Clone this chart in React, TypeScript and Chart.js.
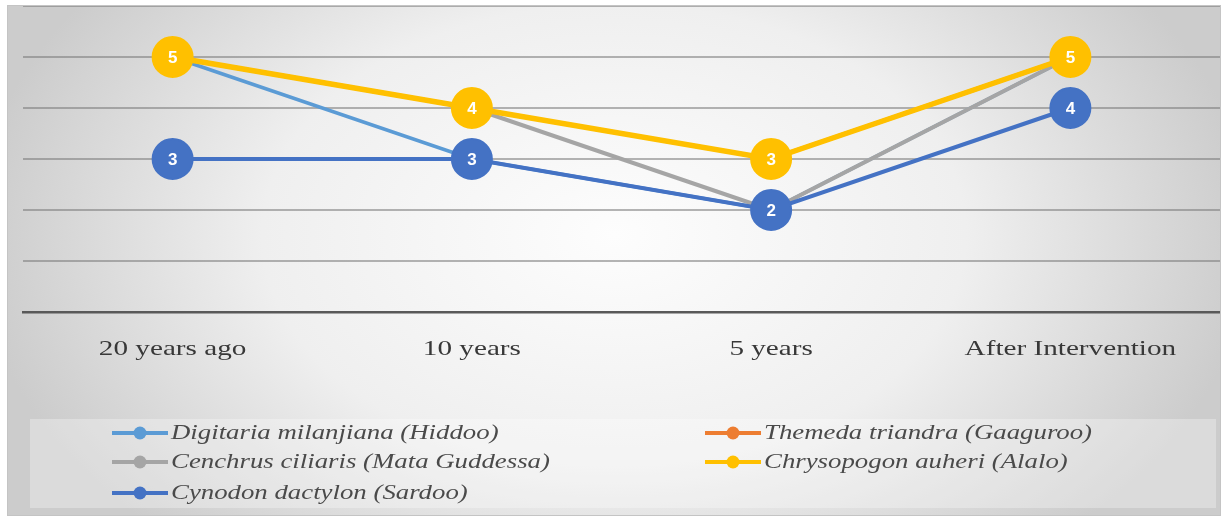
import React, { useEffect, useRef } from "react";
import { Chart, registerables } from "chart.js";

Chart.register(...registerables);

const categories = ["20 years ago", "10 years", "5 years", "After Intervention"];
const seriesNames = [
  "Digitaria milanjiana (Hiddoo)",
  "Themeda triandra (Gaaguroo)",
  "Cenchrus ciliaris (Mata Guddessa)",
  "Chrysopogon auheri (Alalo)",
  "Cynodon dactylon (Sardoo)",
];
const digitaria = [5, 3, 2, 5];
const themeda = [5, 4, 3, 5];
const cenchrus = [5, 4, 2, 5];
const chrysopogon = [5, 4, 3, 5];
const cynodon = [3, 3, 2, 4];
const yMin = 0;
const yMax = 6;

const colors = ["#5B9BD5", "#ED7D31", "#A5A5A5", "#FFC000", "#4472C4"];
const lineWidths = [3.5, 4, 4, 5.5, 4];
const labelled = [false, false, false, true, true];
const drawOrder = [4, 3, 2, 1, 0];
const seriesValues = [digitaria, themeda, cenchrus, chrysopogon, cynodon];

// legend layout: [column, row] for each series
const legendSlots = [
  [0, 0],
  [1, 0],
  [0, 1],
  [1, 1],
  [0, 2],
];

const customPlugin = {
  id: "custom",
  afterDatasetsDraw(chart: any) {
    const ctx = chart.ctx;
    ctx.save();
    chart.data.datasets.forEach((ds: any, i: number) => {
      if (!ds.showLabels) return;
      const meta = chart.getDatasetMeta(i);
      meta.data.forEach((pt: any, j: number) => {
        ctx.font = "bold 17px 'Liberation Sans', Arial, sans-serif";
        ctx.fillStyle = "#ffffff";
        ctx.textAlign = "center";
        ctx.textBaseline = "middle";
        ctx.fillText(String(ds.data[j]), pt.x, pt.y + 1);
      });
    });
    ctx.restore();
  },
  afterDraw(chart: any) {
    const ctx = chart.ctx;
    const xs = chart.scales.x;
    const axisY = chart.chartArea.bottom;
    ctx.save();
    // category labels
    ctx.fillStyle = "#383838";
    ctx.font = "21px 'Liberation Serif', 'Times New Roman', serif";
    ctx.textAlign = "center";
    ctx.textBaseline = "middle";
    categories.forEach((c, i) => {
      const x = xs.getPixelForValue(i);
      ctx.save();
      ctx.translate(x, axisY + 37);
      ctx.scale(1.39, 1);
      ctx.fillText(c, 0, 0);
      ctx.restore();
    });
    // legend box
    const boxTop = axisY + 107;
    ctx.fillStyle = "rgba(255,255,255,0.3)";
    ctx.fillRect(22, boxTop, 1186, 89);
    const colLine = [104, 697];
    const rowY = [boxTop + 14, boxTop + 43, boxTop + 74];
    seriesNames.forEach((name, i) => {
      const [c, r] = legendSlots[i];
      const x0 = colLine[c];
      const y = rowY[r];
      ctx.strokeStyle = colors[i];
      ctx.lineWidth = 4;
      ctx.lineCap = "butt";
      ctx.beginPath();
      ctx.moveTo(x0, y);
      ctx.lineTo(x0 + 56, y);
      ctx.stroke();
      ctx.fillStyle = colors[i];
      ctx.beginPath();
      ctx.arc(x0 + 28, y, 6.5, 0, Math.PI * 2);
      ctx.fill();
      ctx.save();
      ctx.translate(x0 + 59, y);
      ctx.scale(1.34, 1);
      ctx.fillStyle = "#4a4a4a";
      ctx.font = "italic 20px 'Liberation Serif', 'Times New Roman', serif";
      ctx.textAlign = "left";
      ctx.textBaseline = "middle";
      ctx.fillText(name, 0, 1);
      ctx.restore();
    });
    ctx.restore();
  },
};

export default function App() {
  const ref = useRef<HTMLCanvasElement | null>(null);
  useEffect(() => {
    if (!ref.current) return;
    const chart = new Chart(ref.current, {
      type: "line",
      data: {
        labels: categories,
        datasets: seriesNames.map((name, i) => ({
          label: name,
          data: seriesValues[i],
          borderColor: colors[i],
          backgroundColor: colors[i],
          borderWidth: lineWidths[i],
          pointRadius: labelled[i] ? 20 : 0,
          pointHoverRadius: labelled[i] ? 20 : 0,
          pointBorderWidth: 2,
          pointBorderColor: colors[i],
          pointBackgroundColor: colors[i],
          tension: 0,
          order: drawOrder[i],
          clip: false,
          showLabels: labelled[i],
        })) as any,
      },
      options: {
        animation: false,
        responsive: false,
        maintainAspectRatio: false,
        layout: { autoPadding: false, padding: { left: 15, right: 0, top: 0, bottom: 0 } },
        plugins: { legend: { display: false }, tooltip: { enabled: false } },
        scales: {
          x: {
            type: "category",
            offset: true,
            grid: { display: false, drawTicks: false },
            border: { display: true, color: "#595959", width: 2.5 },
            ticks: { display: false },
            afterFit: (s: any) => {
              s.height = 203;
            },
          },
          y: {
            min: yMin,
            max: yMax,
            ticks: { display: false, stepSize: 1 },
            border: { display: false },
            grid: { color: "rgba(120,120,120,0.55)", lineWidth: 2, drawTicks: false },
            afterFit: (s: any) => {
              s.width = 0;
            },
          },
        },
      } as any,
      plugins: [customPlugin],
    });
    return () => chart.destroy();
  }, []);
  return (
    <div
      style={{
        position: "absolute",
        left: 7,
        top: 5,
        width: 1214,
        height: 511,
        boxSizing: "border-box",
        border: "1px solid #c4c4c4",
        background:
          "radial-gradient(ellipse 640px 420px at 50% 45%, #fdfdfd 0%, #efefef 55%, #cccccc 100%)",
      }}
    >
      <canvas ref={ref} width={1212} height={509} style={{ display: "block" }} />
    </div>
  );
}
